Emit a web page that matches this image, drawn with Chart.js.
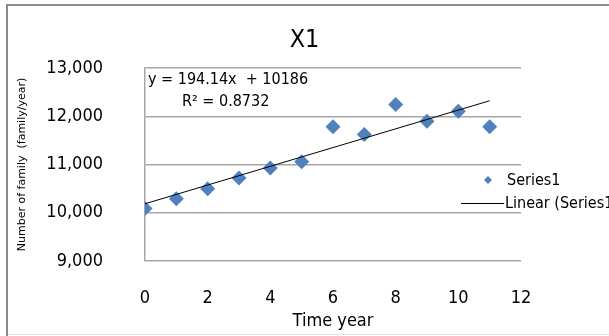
<!DOCTYPE html>
<html lang="en">
<head>
<meta charset="UTF-8">
<title>X1</title>
<script src="https://cdn.jsdelivr.net/npm/chart.js"></script>
<style>
  html, body { margin: 0; background: #fff; overflow: hidden; }
  #wrap { width: 609px; height: 336px; }
  canvas { display: block; }
</style>
</head>
<body>
<div id="wrap"><canvas id="myChart" width="609" height="336"></canvas></div>
<script>
// number of families per year, years counted from 0
const years = [0, 1, 2, 3, 4, 5, 6, 7, 8, 9, 10, 11];
const families = [10090, 10290, 10500, 10720, 10930, 11055, 11780, 11621, 12242, 11897, 12104, 11780];

// linear trend printed on the chart
const slope = 194.14;
const intercept = 10186;
const rSquared = 0.8732;

const yMin = 9000, yMax = 13000, yStep = 1000;
const xMin = 0, xMax = 12, xStep = 2;

const narrow = '"DejaVu Sans Condensed", "Liberation Sans Narrow", sans-serif';
const blue = '#4f81bd';
const gridGray = '#a6a6a6';

const points = years.map((x, i) => ({ x: x, y: families[i] }));
const trend = [years[0], years[years.length - 1]].map(x => ({ x: x, y: intercept + slope * x }));

// white page with the grey frame around the chart object
const frame = {
    id: 'frame',
    beforeDraw(chart) {
        const c = chart.ctx;
        c.save();
        c.fillStyle = '#fff';
        c.fillRect(0, 0, chart.width, chart.height);
        c.fillStyle = '#8c8c8c';
        c.fillRect(6, 4, chart.width - 6, 2);
        c.fillRect(6, 4, 2, chart.height - 4);
        c.fillStyle = '#e2e2e2';
        c.fillRect(8, 334, chart.width - 8, 1);
        c.restore();
    }
};

// regression equation in the top-left of the plot
const equation = {
    id: 'equation',
    afterDatasetsDraw(chart) {
        const c = chart.ctx, a = chart.chartArea;
        c.save();
        c.fillStyle = '#000';
        c.font = '16px ' + narrow;
        c.textBaseline = 'middle';
        c.textAlign = 'left';
        c.fillText('y = ' + slope + 'x  + ' + intercept, a.left + 3, a.top + 12);
        c.fillText('R\u00b2 = ' + rSquared, a.left + 37, a.top + 34);
        c.restore();
    }
};

// legend sitting over the right end of the plot
const sideLegend = {
    id: 'sideLegend',
    afterDraw(chart) {
        const c = chart.ctx;
        const ds = chart.data.datasets;
        c.save();
        c.font = '16px ' + narrow;
        c.textBaseline = 'middle';
        c.textAlign = 'left';

        c.fillStyle = ds[0].backgroundColor;
        c.beginPath();
        c.moveTo(488, 176); c.lineTo(492, 180); c.lineTo(488, 184); c.lineTo(484, 180);
        c.closePath();
        c.fill();
        c.fillStyle = '#000';
        c.fillText(ds[0].label, 507, 181);

        c.strokeStyle = ds[1].borderColor;
        c.lineWidth = 1;
        c.beginPath();
        c.moveTo(461, 203.5); c.lineTo(504, 203.5);
        c.stroke();
        c.fillText(ds[1].label, 505, 204);
        c.restore();
    }
};

const ctx = document.getElementById('myChart').getContext('2d');
const myChart = new Chart(ctx, {
    type: 'scatter',
    data: {
        datasets: [{
            label: 'Series1',
            data: points,
            pointStyle: 'rectRot',
            pointRadius: 7.5,
            backgroundColor: blue,
            borderColor: blue,
            borderWidth: 0,
            order: 1
        }, {
            label: 'Linear (Series1)',
            data: trend,
            showLine: true,
            borderColor: '#000',
            borderWidth: 1,
            pointRadius: 0,
            order: 0
        }]
    },
    options: {
        responsive: false,
        animation: false,
        devicePixelRatio: 1,
        layout: { padding: 0 },
        plugins: {
            legend: { display: false },
            tooltip: { enabled: false },
            title: {
                display: true,
                text: 'X1',
                color: '#000',
                font: { family: narrow, size: 25, weight: 'normal' },
                padding: { top: 25, bottom: 13 }
            }
        },
        scales: {
            x: {
                type: 'linear',
                min: xMin,
                max: xMax,
                afterFit(scale) { scale.height = 75; },
                ticks: {
                    stepSize: xStep,
                    color: '#000',
                    padding: 19,
                    font: { family: narrow, size: 18 }
                },
                grid: { display: false },
                border: { display: false },
                title: {
                    display: true,
                    text: 'Time year',
                    color: '#000',
                    font: { family: narrow, size: 18 },
                    padding: { top: 0, bottom: 4 }
                }
            },
            y: {
                min: yMin,
                max: yMax,
                afterFit(scale) { scale.width = 145; },
                ticks: {
                    stepSize: yStep,
                    color: '#000',
                    padding: 42,
                    font: { family: narrow, size: 18 },
                    callback: v => v.toLocaleString('en-US')
                },
                grid: { color: gridGray, lineWidth: 1.5, drawTicks: false },
                border: { display: true, color: gridGray, width: 1.5 },
                title: {
                    display: true,
                    text: 'Number of family  (family/year)',
                    color: '#000',
                    font: { family: '"DejaVu Sans", sans-serif', size: 11 },
                    padding: { top: 16, bottom: 0 }
                }
            },
            // empty strip on the right that holds the legend
            side: {
                position: 'right',
                display: true,
                min: yMin,
                max: yMax,
                afterFit(scale) { scale.width = 88; },
                ticks: { display: false },
                grid: { display: false },
                border: { display: false }
            }
        }
    },
    plugins: [frame, equation, sideLegend]
});
</script>
</body>
</html>
